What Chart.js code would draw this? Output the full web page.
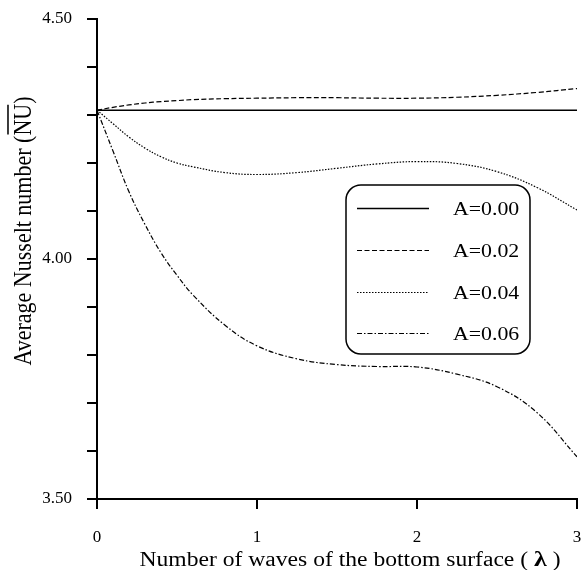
<!DOCTYPE html>
<html>
<head>
<meta charset="utf-8">
<script src="https://cdn.jsdelivr.net/npm/chart.js@4/dist/chart.umd.min.js"></script>
<style>
  html, body { margin: 0; padding: 0; background: #fff; }
  #nuChart { display: block; }
</style>
</head>
<body>
<canvas id="nuChart" width="584" height="570"></canvas>
<script>
// values
const lambdaVals = [0, 0.1, 0.2, 0.3, 0.4, 0.5, 0.6, 0.8, 1.0, 1.25, 1.5, 1.75, 2.0, 2.25, 2.5, 2.75, 3.0];
const nuA000 = [4.310, 4.310, 4.310, 4.310, 4.310, 4.310, 4.310, 4.310, 4.310, 4.310, 4.310, 4.310, 4.310, 4.310, 4.310, 4.310, 4.310];
const nuA002 = [4.310, 4.316, 4.321, 4.325, 4.328, 4.330, 4.332, 4.334, 4.335, 4.336, 4.336, 4.335, 4.335, 4.337, 4.341, 4.347, 4.355];
const nuA004 = [4.310, 4.282, 4.254, 4.231, 4.213, 4.200, 4.192, 4.180, 4.176, 4.180, 4.189, 4.198, 4.203, 4.199, 4.182, 4.149, 4.102];
const nuA006 = [4.310, 4.225, 4.140, 4.072, 4.013, 3.966, 3.925, 3.862, 3.819, 3.792, 3.780, 3.776, 3.775, 3.760, 3.734, 3.680, 3.588];
const seriesLabels = ['A=0.00', 'A=0.02', 'A=0.04', 'A=0.06'];
const yLabelTicks = [3.5, 4.0, 4.5];

const serif = "'Liberation Serif', 'Times New Roman', serif";
const stretch = 1.18; // the original text is a bit wide

function pts(ys) {
  return lambdaVals.map((x, i) => ({ x: x, y: ys[i] }));
}

const dashes = [[], [5, 2.5], [1.5, 1.5], [5, 2, 1.5, 2]];
const allSeries = [nuA000, nuA002, nuA004, nuA006];

const datasets = allSeries.map((s, i) => ({
  label: seriesLabels[i],
  data: pts(s),
  borderColor: '#000',
  borderWidth: i === 0 ? 1.4 : 1.2,
  borderDash: dashes[i],
  pointRadius: 0,
  fill: false,
  tension: 0.4
}));

// titles + boxed legend, drawn by hand
const extras = {
  id: 'extras',
  afterDraw(chart) {
    const ctx = chart.ctx;
    ctx.save();
    ctx.fillStyle = '#000';
    ctx.strokeStyle = '#000';

    // x title
    const a = 'Number of waves of the bottom surface ( ';
    const b = '\u03bb';
    const c = ' )';
    ctx.font = '20px ' + serif;
    const wa = ctx.measureText(a).width;
    const wc = ctx.measureText(c).width;
    ctx.font = 'bold 22px ' + serif;
    const wb = ctx.measureText(b).width;
    const total = wa + wb + wc;
    ctx.save();
    ctx.translate(350, 566);
    ctx.scale(stretch, 1);
    ctx.textBaseline = 'alphabetic';
    ctx.textAlign = 'left';
    let x0 = -total / 2;
    ctx.font = '20px ' + serif;
    ctx.fillText(a, x0, 0);
    ctx.font = 'bold 22px ' + serif;
    ctx.fillText(b, x0 + wa, 0);
    ctx.font = '20px ' + serif;
    ctx.fillText(c, x0 + wa + wb, 0);
    ctx.restore();

    // y title with overline on NU
    const t1 = 'Average Nusselt number (';
    const t2 = 'NU';
    const t3 = ')';
    ctx.font = '22px ' + serif;
    const w1 = ctx.measureText(t1).width;
    const w2 = ctx.measureText(t2).width;
    const w3 = ctx.measureText(t3).width;
    const tw = w1 + w2 + w3;
    ctx.save();
    ctx.translate(31, 231);
    ctx.rotate(-Math.PI / 2);
    ctx.scale(1, stretch);
    ctx.textAlign = 'left';
    ctx.textBaseline = 'alphabetic';
    const s0 = -tw / 2;
    ctx.fillText(t1 + t2 + t3, s0, 0);
    ctx.lineWidth = 1.3;
    ctx.beginPath();
    ctx.moveTo(s0 + w1 + 1, -19.5);
    ctx.lineTo(s0 + w1 + w2 - 1, -19.5);
    ctx.stroke();
    ctx.restore();

    // legend box
    const bx = 346, by = 185, bw = 184, bh = 169, r = 15;
    ctx.lineWidth = 1.5;
    ctx.beginPath();
    ctx.roundRect(bx, by, bw, bh, r);
    ctx.stroke();
    const rowY = [208, 250, 292, 333];
    chart.data.datasets.forEach((ds, i) => {
      ctx.save();
      ctx.lineWidth = ds.borderWidth;
      ctx.setLineDash(ds.borderDash);
      ctx.beginPath();
      ctx.moveTo(357, rowY[i] + 0.5);
      ctx.lineTo(429, rowY[i] + 0.5);
      ctx.stroke();
      ctx.restore();
      ctx.save();
      ctx.translate(453, rowY[i] + 7);
      ctx.scale(stretch, 1);
      ctx.font = '18.5px ' + serif;
      ctx.textAlign = 'left';
      ctx.textBaseline = 'alphabetic';
      ctx.fillText(ds.label, 0, 0);
      ctx.restore();
    });
    ctx.restore();
  }
};

new Chart(document.getElementById('nuChart'), {
  type: 'line',
  data: { datasets: datasets },
  options: {
    responsive: false,
    animation: false,
    devicePixelRatio: 1,
    layout: { padding: { left: 0, top: 19, right: 7, bottom: 0 } },
    plugins: { legend: { display: false }, tooltip: { enabled: false } },
    scales: {
      x: {
        type: 'linear',
        min: 0,
        max: 3,
        afterFit: (s) => { s.height = 71; s.paddingLeft = 0; s.paddingRight = 0; },
        ticks: {
          stepSize: 1,
          color: '#000',
          padding: 18,
          maxRotation: 0,
          font: { family: serif, size: 17 }
        },
        grid: { drawOnChartArea: false, drawTicks: true, tickLength: 10, color: '#000', lineWidth: 2 },
        border: { color: '#000', width: 2 }
      },
      y: {
        type: 'linear',
        min: 3.5,
        max: 4.5,
        afterFit: (s) => { s.width = 97; s.paddingTop = 0; s.paddingBottom = 0; },
        ticks: {
          stepSize: 0.1,
          color: '#000',
          padding: 15,
          font: { family: serif, size: 17 },
          callback: (v) => yLabelTicks.some(t => Math.abs(t - v) < 1e-6) ? v.toFixed(2) : ''
        },
        grid: { drawOnChartArea: false, drawTicks: true, tickLength: 10, color: '#000', lineWidth: 2 },
        border: { color: '#000', width: 2 }
      }
    }
  },
  plugins: [extras]
});
</script>
</body>
</html>
